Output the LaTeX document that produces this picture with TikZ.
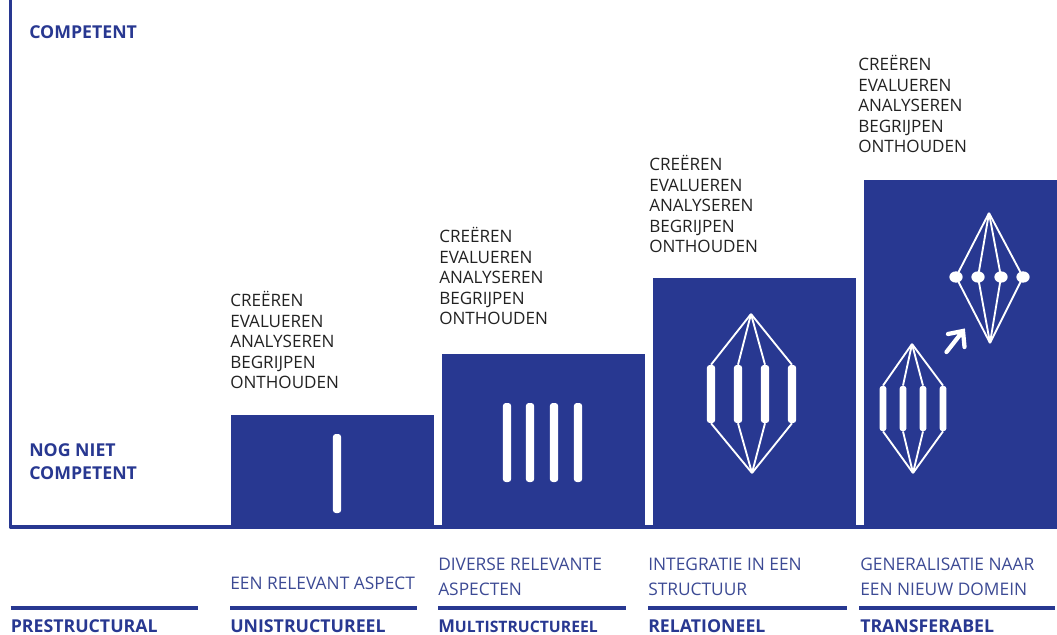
\documentclass[tikz,border=0pt]{standalone}
\usepackage{fontspec}
\setmainfont{Open Sans}
\usetikzlibrary{shapes.geometric}
\definecolor{ublue}{HTML}{283891}
\definecolor{dblue}{HTML}{3C4A94}
\definecolor{ink}{HTML}{222222}
\tikzset{
  px/.style={x=0.75pt,y=-0.75pt},
  barbox/.style={fill=ublue,draw=none},
  axisline/.style={draw=ublue,line width=2.7pt,line cap=round,line join=round},
  rule/.style={draw=ublue,line width=3pt},
  bloom/.style={anchor=north west,inner sep=0pt,align=left,text=ink,font=\fontsize{12.8pt}{15.4pt}\selectfont},
  headtxt/.style={anchor=base west,inner sep=0pt,text=ublue,font=\fontsize{13.3pt}{17pt}\selectfont\bfseries,align=left},
  desc/.style={anchor=base west,inner sep=0pt,text=dblue,font=\fontsize{13pt}{18.7pt}\selectfont,align=left},
  rod/.style={fill=white,draw=none,rounded corners=2.2pt,minimum width=#1,inner sep=0pt},
  rod/.default=6.2pt,
  wire/.style={draw=white,line width=1.4pt},
  dot/.style={fill=white,draw=none,ellipse,minimum width=10pt,minimum height=8.5pt,inner sep=0pt},
}
\newcommand{\bloomtext}{CREËREN\\EVALUEREN\\ANALYSEREN\\BEGRIJPEN\\ONTHOUDEN}
\begin{document}
\begin{tikzpicture}[px]
\useasboundingbox (0,0) rectangle (1057,635);
% bars
\fill[barbox] (231,415) rectangle (434,529);
\fill[barbox] (442,354) rectangle (645,529);
\fill[barbox] (653,278) rectangle (856,529);
\fill[barbox] (864,180) rectangle (1057,529);
\fill[barbox] (434,525) rectangle (1057,529);
% axes
\coordinate (top) at (10.5,0);
\coordinate (corner) at (10.5,527);
\coordinate (right) at (231,527);
\draw[axisline] (top) -- (corner) -- (right);
% axis labels
\node[headtxt] (comp) at (29,39) {COMPETENT};
\node[headtxt] (nog) at (29,456.5) {NOG NIET};
\node[headtxt] (comp2) at (29,479) {COMPETENT};
% taxonomy lists
\node[bloom] (b1) at (230,291) {\bloomtext};
\node[bloom] (b2) at (439,227) {\bloomtext};
\node[bloom] (b3) at (649,155) {\bloomtext};
\node[bloom] (b4) at (858,55) {\bloomtext};
% level 1
\node[rod,minimum height=59.25pt] (u) at (337,473.5) {};
% level 2
\foreach \n/\x in {1/507,2/530,3/554,4/578}
  \node[rod,minimum height=59.25pt] (m\n) at (\x,442.5) {};
% level 3
\coordinate (ra) at (751,314);
\coordinate (rb) at (752,473);
\foreach \n/\x in {1/711,2/738,3/765,4/792}{
  \node[rod,minimum height=43.5pt] (r\n) at (\x,394) {};
  \draw[wire] (ra) -- (r\n.north);
  \draw[wire] (rb) -- (r\n.south);
}
% level 4 small
\coordinate (sa) at (912,344);
\coordinate (sb) at (913,473);
\foreach \n/\x in {1/883,2/903,3/923,4/943}{
  \node[rod=5.2pt,minimum height=34pt] (s\n) at (\x,408.5) {};
  \draw[wire] (sa) -- (s\n.north);
  \draw[wire] (sb) -- (s\n.south);
}
% level 4 large
\coordinate (ta) at (989,213);
\coordinate (tb) at (990,343);
\foreach \n/\x in {1/956,2/978,3/1001,4/1023}{
  \node[dot] (t\n) at (\x,277) {};
  \draw[wire] (ta) -- (t\n.center);
  \draw[wire] (tb) -- (t\n.center);
}
% arrow
\coordinate (af) at (946.5,352);
\coordinate (at) at (963,331);
\coordinate (al) at (948,334);
\coordinate (ar) at (964.5,347);
\draw[draw=white,line width=3.2pt,line cap=round,line join=miter] (af) -- (at) (al) -- (at) -- (ar);
% descriptions
\node[desc] (d2) at (230,589.5) {EEN RELEVANT ASPECT};
\node[desc] (d3a) at (438,570.5) {DIVERSE RELEVANTE};
\node[desc] (d3b) at (438,595.5) {ASPECTEN};
\node[desc] (d4a) at (648,570.5) {INTEGRATIE IN EEN};
\node[desc] (d4b) at (648,595.5) {STRUCTUUR};
\node[desc] (d5a) at (860,570.5) {GENERALISATIE NAAR};
\node[desc] (d5b) at (860,595.5) {EEN NIEUW DOMEIN};
% rules
\foreach \n/\a/\b in {1/10.5/198,2/230/417,3/438/626,4/648/847,5/859/1055}{
  \coordinate (l\n) at (\a,608);
  \coordinate (e\n) at (\b,608);
  \draw[rule] (l\n) -- (e\n);
}
% level names
\node[headtxt] (n1) at (10.5,632) {PRESTRUCTURAL};
\node[headtxt] (n2) at (230,632) {UNISTRUCTUREEL};
\node[headtxt] (n3) at (438,632) {M{\fontsize{11.8pt}{17pt}\selectfont ULTISTRUCTUREEL}};
\node[headtxt] (n4) at (648,632) {RELATIONEEL};
\node[headtxt] (n5) at (860,632) {TRANSFERABEL};
\end{tikzpicture}
\end{document}
